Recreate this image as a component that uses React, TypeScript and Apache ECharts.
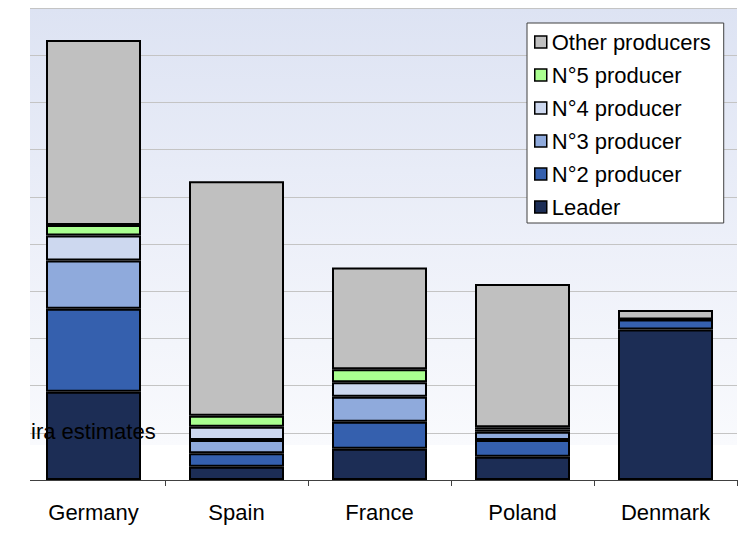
import React, { useEffect, useRef } from "react";
import * as echarts from "echarts";

// Market share of the largest producers by country (stacked)
const countries = ["Germany", "Spain", "France", "Poland", "Denmark"];
const seriesNames = ["Leader", "N°2 producer", "N°3 producer", "N°4 producer", "N°5 producer", "Other producers"];
const leader = [18.7, 2.8, 6.6, 4.9, 31.9];
const second = [17.6, 2.85, 5.75, 3.6, 2.1];
const third = [10.2, 2.85, 5.3, 1.7, 0];
const fourth = [5.3, 2.8, 3.05, 0.5, 0];
const fifth = [2.2, 2.3, 2.75, 0.5, 0];
const others = [39.2, 49.7, 21.55, 30.3, 2.0];
const seriesColors = ["#1c2d55", "#3560ae", "#8faadc", "#cdd8ef", "#aaff90", "#c0c0c0"];
const legendOrder = ["Other producers", "N°5 producer", "N°4 producer", "N°3 producer", "N°2 producer", "Leader"];
const sourceNote = "ira estimates";

const FONT = "'Liberation Sans', Arial, sans-serif";

export default function App() {
  const ref = useRef<HTMLDivElement>(null);

  useEffect(() => {
    if (!ref.current) return;
    const chart = echarts.init(ref.current, null, { renderer: "svg" });
    const values = [leader, second, third, fourth, fifth, others];

    chart.setOption({
      animation: false,
      backgroundColor: "#ffffff",
      grid: {
        left: 22,
        right: 6,
        top: 8,
        bottom: 53,
        show: true,
        borderWidth: 0,
        backgroundColor: new echarts.graphic.LinearGradient(0, 0, 0, 1, [
          { offset: 0, color: "#dde3f3" },
          { offset: 0.5, color: "#edf0f9" },
          { offset: 0.925, color: "#f9fafd" },
          { offset: 0.926, color: "#ffffff" },
          { offset: 1, color: "#ffffff" },
        ]),
      },
      legend: {
        data: legendOrder,
        orient: "vertical",
        left: 527,
        top: 23,
        padding: [8, 13, 5, 7],
        itemGap: 11,
        itemWidth: 12,
        itemHeight: 12,
        itemTextGap: 7,
        icon: "rect",
        backgroundColor: "#ffffff",
        borderColor: "#404040",
        borderWidth: 1,
        borderRadius: 0,
        itemStyle: { borderColor: "#000000", borderWidth: 1.5 },
        textStyle: { fontFamily: FONT, fontSize: 22, color: "#000000", lineHeight: 22 },
      },
      xAxis: {
        type: "category",
        data: countries,
        axisLine: { lineStyle: { color: "#404040", width: 1 } },
        axisTick: { show: true, length: 6, lineStyle: { color: "#404040" } },
        axisLabel: { fontFamily: FONT, fontSize: 22, color: "#000000", margin: 21 },
      },
      yAxis: {
        type: "value",
        min: 0,
        max: 100,
        interval: 10,
        axisLabel: { show: false },
        axisLine: { show: false },
        axisTick: { show: false },
        splitLine: { lineStyle: { color: "#c4c4c4", width: 1 } },
      },
      series: seriesNames.map((name, i) => ({
        name,
        type: "bar",
        stack: "share",
        barWidth: 95,
        data: values[i],
        itemStyle: { color: seriesColors[i], borderColor: "#000000", borderWidth: 2 },
      })),
      graphic: [
        {
          type: "rect",
          z: 100,
          shape: { x: 0, y: 0, width: 30, height: 533 },
          style: { fill: "#ffffff" },
        },
        {
          type: "text",
          z: 100,
          x: 31,
          y: 442,
          style: { text: sourceNote, font: `22px ${FONT}`, fill: "#000000", verticalAlign: "bottom" },
        },
      ],
    });

    return () => chart.dispose();
  }, []);

  return <div ref={ref} style={{ position: "fixed", left: 0, top: 0, width: 743, height: 533 }} />;
}
